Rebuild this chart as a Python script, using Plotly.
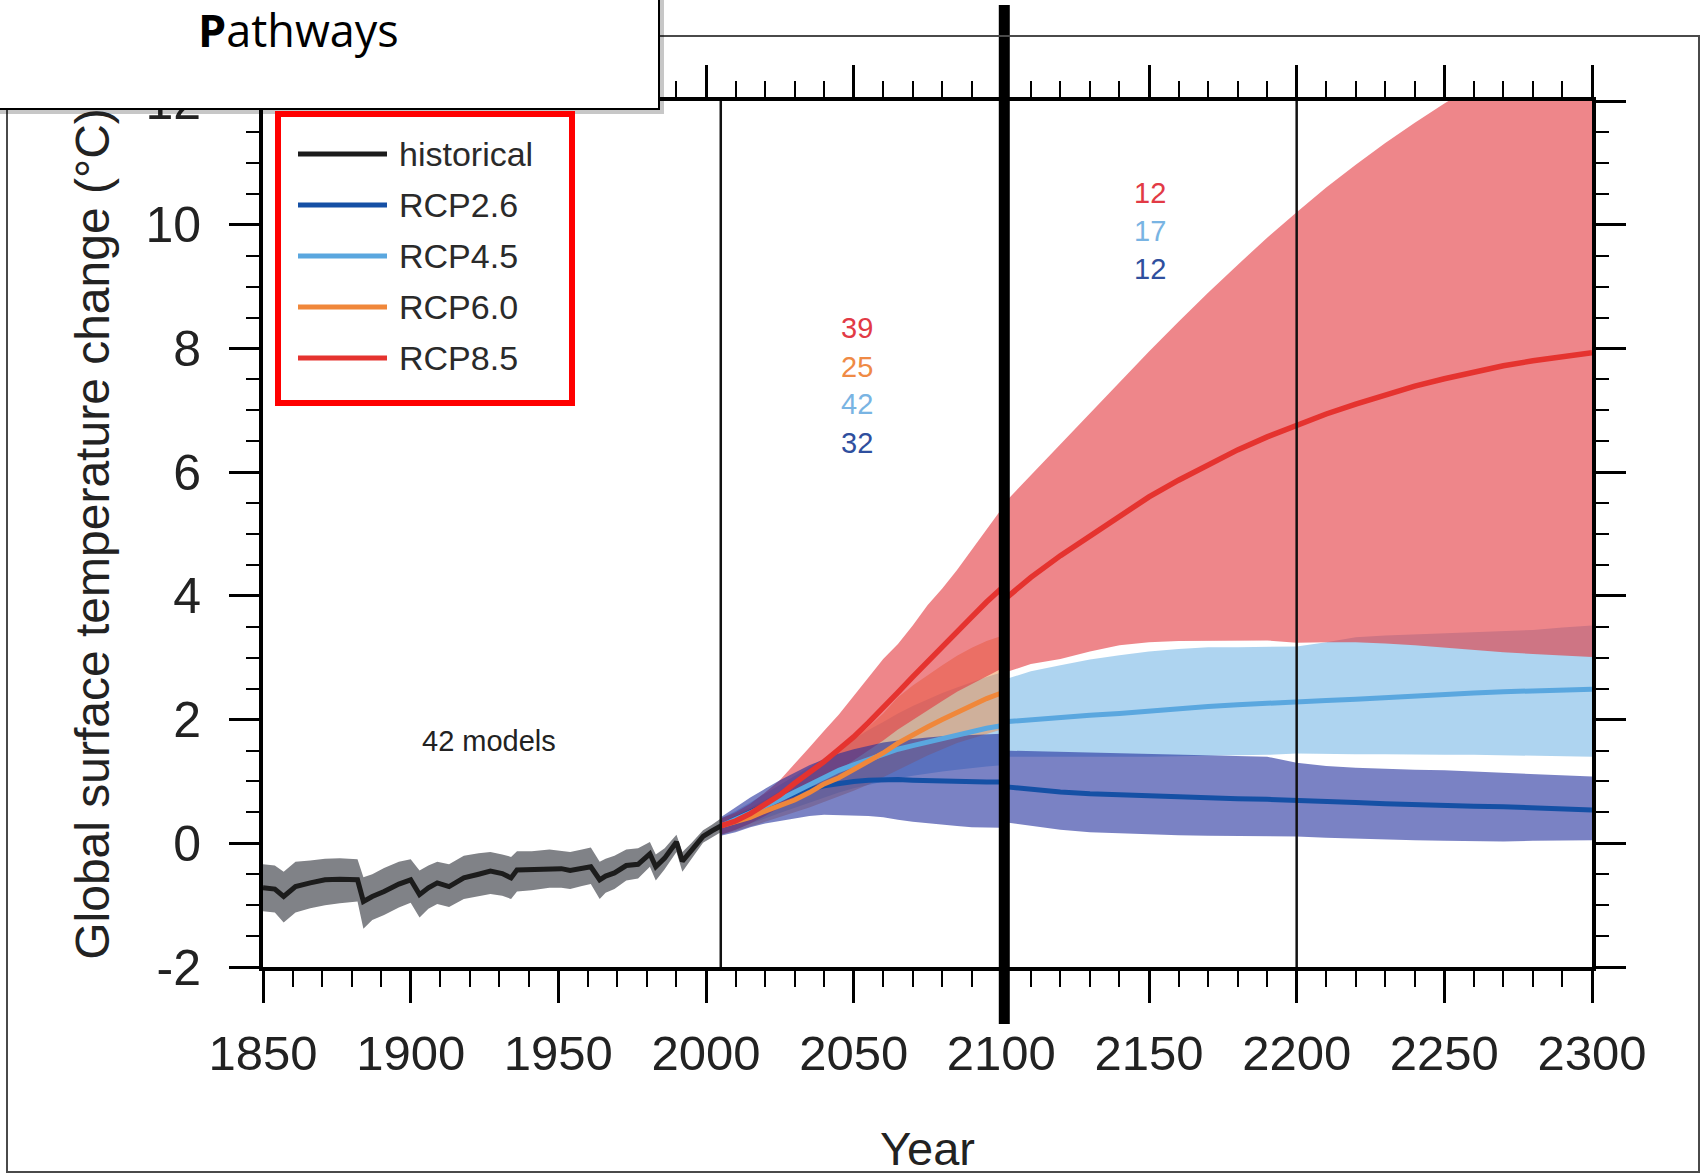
import plotly.graph_objects as go

# ---------------- historical simulations, 1850-2005 ----------------
hist_years = [1850, 1854, 1857, 1861, 1866, 1871, 1876, 1882, 1884, 1887,
              1891, 1896, 1900, 1903, 1906, 1909, 1913, 1918, 1923, 1927,
              1931, 1934, 1936, 1941, 1947, 1951, 1954, 1958, 1961, 1964,
              1966, 1969, 1973, 1977, 1981, 1983, 1986, 1990, 1992, 1995,
              1999, 2002, 2005]
hist_mean = [-0.72, -0.74, -0.86, -0.70, -0.64, -0.59, -0.58, -0.59, -0.94, -0.86,
             -0.78, -0.66, -0.59, -0.83, -0.72, -0.64, -0.70, -0.56, -0.50, -0.45,
             -0.49, -0.56, -0.43, -0.42, -0.40, -0.41, -0.44, -0.40, -0.38, -0.59,
             -0.53, -0.48, -0.36, -0.34, -0.17, -0.38, -0.24, 0.02, -0.29, -0.12,
             0.11, 0.20, 0.28]
hist_upper = [-0.34, -0.36, -0.46, -0.30, -0.28, -0.25, -0.24, -0.26, -0.55, -0.50,
              -0.40, -0.30, -0.26, -0.44, -0.36, -0.30, -0.34, -0.20, -0.16, -0.14,
              -0.18, -0.22, -0.13, -0.13, -0.10, -0.12, -0.14, -0.10, -0.07, -0.30,
              -0.25, -0.20, -0.10, -0.08, 0.02, -0.18, -0.08, 0.14, -0.14, 0.00,
              0.21, 0.30, 0.40]
hist_lower = [-1.10, -1.12, -1.28, -1.12, -1.05, -1.00, -0.97, -0.94, -1.38, -1.24,
              -1.16, -1.04, -0.96, -1.20, -1.06, -0.98, -1.03, -0.90, -0.86, -0.82,
              -0.85, -0.90, -0.78, -0.76, -0.72, -0.72, -0.74, -0.69, -0.66, -0.90,
              -0.80, -0.74, -0.60, -0.57, -0.38, -0.60, -0.42, -0.14, -0.46, -0.26,
              0.01, 0.10, 0.18]

# ---------------- RCP projections, 2005-2100 ----------------
years_21c = [2005, 2010, 2015, 2020, 2025, 2030, 2035, 2040, 2045, 2050,
             2055, 2060, 2065, 2070, 2075, 2080, 2085, 2090, 2095, 2100]

rcp26_mean_21c = [0.28, 0.40, 0.52, 0.62, 0.72, 0.80, 0.87, 0.93, 0.97, 1.00,
                  1.02, 1.03, 1.03, 1.02, 1.01, 1.01, 1.00, 1.00, 0.99, 0.99]
rcp26_upper_21c = [0.42, 0.58, 0.74, 0.88, 1.02, 1.14, 1.26, 1.36, 1.45, 1.52,
                   1.58, 1.63, 1.66, 1.69, 1.71, 1.73, 1.74, 1.75, 1.76, 1.77]
rcp26_lower_21c = [0.12, 0.18, 0.26, 0.32, 0.37, 0.40, 0.44, 0.46, 0.46, 0.45,
                   0.44, 0.42, 0.38, 0.35, 0.32, 0.30, 0.28, 0.26, 0.25, 0.25]

rcp45_mean_21c = [0.28, 0.38, 0.50, 0.60, 0.71, 0.83, 0.96, 1.08, 1.18, 1.27,
                  1.36, 1.44, 1.52, 1.58, 1.64, 1.70, 1.76, 1.81, 1.86, 1.90]
rcp45_upper_21c = [0.40, 0.52, 0.66, 0.80, 0.94, 1.08, 1.23, 1.38, 1.53, 1.68,
                   1.83, 1.96, 2.10, 2.22, 2.33, 2.43, 2.52, 2.61, 2.69, 2.76]
rcp45_lower_21c = [0.14, 0.22, 0.32, 0.40, 0.49, 0.58, 0.66, 0.74, 0.82, 0.89,
                   0.95, 1.00, 1.05, 1.09, 1.13, 1.16, 1.19, 1.22, 1.24, 1.26]

rcp60_mean_21c = [0.28, 0.34, 0.42, 0.52, 0.61, 0.70, 0.82, 0.96, 1.06, 1.19,
                  1.32, 1.46, 1.62, 1.76, 1.88, 2.00, 2.12, 2.24, 2.34, 2.43]
rcp60_upper_21c = [0.40, 0.48, 0.58, 0.70, 0.84, 0.98, 1.12, 1.28, 1.48, 1.68,
                   1.88, 2.10, 2.36, 2.55, 2.72, 2.88, 3.03, 3.16, 3.27, 3.35]
rcp60_lower_21c = [0.14, 0.20, 0.27, 0.35, 0.42, 0.50, 0.58, 0.66, 0.76, 0.85,
                   0.95, 1.06, 1.18, 1.30, 1.42, 1.52, 1.62, 1.70, 1.77, 1.84]

rcp85_mean_21c = [0.28, 0.36, 0.48, 0.62, 0.78, 0.97, 1.14, 1.32, 1.52, 1.72,
                  1.95, 2.18, 2.44, 2.69, 2.94, 3.18, 3.42, 3.66, 3.90, 4.12]
rcp85_upper_21c = [0.40, 0.50, 0.64, 0.82, 1.02, 1.28, 1.55, 1.82, 2.08, 2.38,
                   2.68, 2.98, 3.22, 3.52, 3.85, 4.12, 4.42, 4.75, 5.08, 5.40]
rcp85_lower_21c = [0.14, 0.22, 0.32, 0.44, 0.58, 0.72, 0.88, 1.02, 1.18, 1.34,
                   1.50, 1.66, 1.84, 2.00, 2.15, 2.30, 2.45, 2.58, 2.70, 2.82]

# ---------------- extensions, 2100-2300 ----------------
years_ext = [2100, 2110, 2120, 2130, 2140, 2150, 2160, 2170, 2180, 2190, 2200,
             2210, 2220, 2230, 2240, 2250, 2260, 2270, 2280, 2290, 2300]

rcp26_mean_ext = [0.92, 0.87, 0.83, 0.80, 0.78, 0.76, 0.74, 0.73, 0.72, 0.71, 0.70,
                  0.68, 0.66, 0.64, 0.62, 0.61, 0.60, 0.59, 0.57, 0.56, 0.54]
rcp26_upper_ext = [1.50, 1.49, 1.48, 1.47, 1.46, 1.45, 1.44, 1.43, 1.42, 1.40, 1.30,
                   1.25, 1.22, 1.20, 1.19, 1.18, 1.16, 1.14, 1.12, 1.10, 1.08]
rcp26_lower_ext = [0.35, 0.28, 0.22, 0.18, 0.16, 0.15, 0.13, 0.12, 0.11, 0.11, 0.11,
                   0.09, 0.07, 0.06, 0.05, 0.04, 0.03, 0.03, 0.04, 0.05, 0.05]

rcp45_mean_ext = [1.96, 2.00, 2.04, 2.07, 2.10, 2.14, 2.18, 2.21, 2.24, 2.27, 2.29,
                  2.31, 2.33, 2.36, 2.39, 2.41, 2.43, 2.45, 2.46, 2.47, 2.49]
rcp45_upper_ext = [2.63, 2.78, 2.88, 2.97, 3.04, 3.10, 3.14, 3.17, 3.17, 3.17, 3.18,
                   3.25, 3.33, 3.36, 3.38, 3.39, 3.41, 3.43, 3.45, 3.49, 3.52]
rcp45_lower_ext = [1.40, 1.40, 1.40, 1.40, 1.40, 1.40, 1.40, 1.41, 1.42, 1.43, 1.45,
                   1.45, 1.44, 1.44, 1.44, 1.43, 1.43, 1.42, 1.42, 1.41, 1.40]

rcp85_mean_ext = [3.90, 4.30, 4.65, 4.97, 5.30, 5.60, 5.87, 6.12, 6.36, 6.57, 6.76,
                  6.94, 7.10, 7.25, 7.39, 7.51, 7.62, 7.72, 7.80, 7.87, 7.93]
rcp85_upper_ext = [5.45, 5.95, 6.45, 6.96, 7.46, 7.95, 8.43, 8.90, 9.35, 9.79, 10.20,
                   10.60, 10.97, 11.32, 11.65, 11.96, 12.25, 12.52, 12.77, 13.00, 13.20]
rcp85_lower_ext = [2.74, 2.90, 2.98, 3.10, 3.20, 3.25, 3.27, 3.28, 3.28, 3.28, 3.24,
                   3.25, 3.25, 3.23, 3.20, 3.17, 3.13, 3.09, 3.06, 3.03, 3.01]

# number of models per scenario (RCP8.5, RCP6.0, RCP4.5, RCP2.6 / RCP8.5, RCP4.5, RCP2.6)
model_counts_21c = ["39", "25", "42", "32"]
model_counts_ext = ["12", "17", "12"]
hist_model_label = "42 models"

# boundaries between the simulation periods
period_breaks = [2005, 2100, 2200]

legend_labels = ["historical", "RCP2.6", "RCP4.5", "RCP6.0", "RCP8.5"]

x_tick_vals = [1850, 1900, 1950, 2000, 2050, 2100, 2150, 2200, 2250, 2300]
x_tick_labels = ["1850", "1900", "1950", "2000", "2050", "2100", "2150", "2200", "2250", "2300"]
y_tick_vals = [-2, 0, 2, 4, 6, 8, 10, 12]
y_tick_labels = ["-2", "0", "2", "4", "6", "8", "10", "12"]

# ---------------- styling ----------------
HIST_LINE, HIST_BAND = "#1c1c1c", "#808287"
C26_LINE, C26_BAND = "#1550a5", "rgba(33,47,157,0.6)"
C45_LINE, C45_BAND = "#5aa7df", "rgba(120,183,230,0.6)"
C60_LINE, C60_BAND = "#f0873a", "rgba(240,140,70,0.5)"
C85_LINE, C85_BAND = "#e5332f", "rgba(227,53,60,0.6)"
TEXT = "#222222"
SANS = "Liberation Sans, Arial, Helvetica, sans-serif"
NARROW = "Liberation Sans Narrow, Arial Narrow, Liberation Sans, Arial, sans-serif"

W, H = 1707, 1175
PL, PT, PW, PH = 263, 101, 1329, 866


def paper_x(px):
    return (px - PL) / PW


def paper_y(py):
    return (PT + PH - py) / PH


fig = go.Figure()


def add_band(x, lower, upper, color, name):
    fig.add_trace(go.Scatter(
        x=list(x) + list(x)[::-1], y=list(upper) + list(lower)[::-1],
        fill="toself", fillcolor=color, mode="lines", line=dict(width=0),
        hoverinfo="skip", showlegend=False, name=name))


def add_line(x, y, color, width, name):
    fig.add_trace(go.Scatter(
        x=x, y=y, mode="lines", line=dict(color=color, width=width),
        showlegend=False, name=name))


# uncertainty ranges
add_band(hist_years, hist_lower, hist_upper, HIST_BAND, "historical range")
add_band(years_21c, rcp45_lower_21c, rcp45_upper_21c, C45_BAND, "RCP4.5 range")
add_band(years_ext, rcp45_lower_ext, rcp45_upper_ext, C45_BAND, "RCP4.5 range")
add_band(years_21c, rcp60_lower_21c, rcp60_upper_21c, C60_BAND, "RCP6.0 range")
add_band(years_21c, rcp85_lower_21c, rcp85_upper_21c, C85_BAND, "RCP8.5 range")
add_band(years_ext, rcp85_lower_ext, rcp85_upper_ext, C85_BAND, "RCP8.5 range")
add_band(years_21c, rcp26_lower_21c, rcp26_upper_21c, C26_BAND, "RCP2.6 range")
add_band(years_ext, rcp26_lower_ext, rcp26_upper_ext, C26_BAND, "RCP2.6 range")

# multi-model means
add_line(hist_years, hist_mean, HIST_LINE, 5, "historical")
add_line(years_21c, rcp26_mean_21c, C26_LINE, 5, "RCP2.6")
add_line(years_ext, rcp26_mean_ext, C26_LINE, 5, "RCP2.6")
add_line(years_21c, rcp45_mean_21c, C45_LINE, 5, "RCP4.5")
add_line(years_ext, rcp45_mean_ext, C45_LINE, 5, "RCP4.5")
add_line(years_21c, rcp60_mean_21c, C60_LINE, 5, "RCP6.0")
add_line(years_21c, rcp85_mean_21c, C85_LINE, 5.5, "RCP8.5")
add_line(years_ext, rcp85_mean_ext, C85_LINE, 5.5, "RCP8.5")

shapes = []
# period separators
for yr in period_breaks:
    shapes.append(dict(type="line", xref="x", yref="paper", x0=yr, x1=yr, y0=0, y1=1,
                       line=dict(color="#111111", width=2.5), layer="above"))
# heavy marker at 2100
shapes.append(dict(type="line", xref="x", yref="paper", x0=2101, x1=2101,
                   y0=paper_y(1024), y1=paper_y(5),
                   line=dict(color="black", width=11), layer="above"))
# outer frame
shapes.append(dict(type="rect", xref="paper", yref="paper",
                   x0=paper_x(7), x1=paper_x(1699), y0=paper_y(1172), y1=paper_y(36),
                   line=dict(color="#4a4a4a", width=2), layer="above"))
# title box with shadow
shapes.append(dict(type="rect", xref="paper", yref="paper",
                   x0=paper_x(-20), x1=paper_x(664), y0=paper_y(114), y1=paper_y(-20),
                   line=dict(width=0), fillcolor="rgba(0,0,0,0.22)", layer="above"))
shapes.append(dict(type="rect", xref="paper", yref="paper",
                   x0=paper_x(-20), x1=paper_x(659), y0=paper_y(109), y1=paper_y(-20),
                   line=dict(color="black", width=2), fillcolor="white", layer="above"))
# legend frame
shapes.append(dict(type="rect", xref="paper", yref="paper",
                   x0=paper_x(278), x1=paper_x(572), y0=paper_y(403), y1=paper_y(114),
                   line=dict(color="#ff0000", width=6), fillcolor="white", layer="above"))

legend_colors = [HIST_LINE, C26_LINE, C45_LINE, C60_LINE, C85_LINE]
legend_rows = [154, 205, 256, 307, 358]
annotations = []
for label, color, row in zip(legend_labels, legend_colors, legend_rows):
    shapes.append(dict(type="line", xref="paper", yref="paper",
                       x0=paper_x(298), x1=paper_x(387), y0=paper_y(row), y1=paper_y(row),
                       line=dict(color=color, width=5), layer="above"))
    annotations.append(dict(xref="paper", yref="paper", x=paper_x(397), y=paper_y(row),
                            text=label, showarrow=False, xanchor="left", yanchor="middle",
                            font=dict(family=SANS, size=34, color="#2a2a2a")))

# model-count labels
count_colors_21c = ["#e23a45", "#ef8a45", "#79b4e3", "#2f4f9e"]
count_y_21c = [8.33, 7.70, 7.10, 6.47]
for txt, col, yy in zip(model_counts_21c, count_colors_21c, count_y_21c):
    annotations.append(dict(x=2051, y=yy, xref="x", yref="y", text=txt, showarrow=False,
                            font=dict(family=SANS, size=29, color=col)))
count_colors_ext = ["#e23a45", "#79b4e3", "#2f4f9e"]
count_y_ext = [10.51, 9.90, 9.28]
for txt, col, yy in zip(model_counts_ext, count_colors_ext, count_y_ext):
    annotations.append(dict(x=2150.5, y=yy, xref="x", yref="y", text=txt, showarrow=False,
                            font=dict(family=SANS, size=29, color=col)))
annotations.append(dict(x=1926.5, y=1.65, xref="x", yref="y", text=hist_model_label,
                        showarrow=False, font=dict(family=SANS, size=29, color=TEXT)))

# title box text
annotations.append(dict(xref="paper", yref="paper", x=paper_x(298), y=paper_y(30),
                        text="<b>P</b>athways", showarrow=False, xanchor="center",
                        yanchor="middle", font=dict(family="Open Sans, sans-serif",
                                                    size=45, color="black")))

axis_common = dict(showline=True, linecolor="black", linewidth=4, mirror="ticks",
                   ticks="outside", tickcolor="black", tickwidth=3, showgrid=False,
                   zeroline=False, fixedrange=True)

fig.update_layout(
    width=W, height=H,
    margin=dict(l=PL, r=W - PL - PW, t=PT, b=H - PT - PH, autoexpand=False),
    paper_bgcolor="white", plot_bgcolor="white",
    showlegend=False,
    shapes=shapes, annotations=annotations,
    xaxis=dict(axis_common, range=[1850, 2300], tickmode="array",
               tickvals=x_tick_vals, ticktext=x_tick_labels, ticklen=32,
               ticklabelstandoff=8,
               tickfont=dict(family=NARROW, size=49, color=TEXT),
               minor=dict(ticks="outside", ticklen=16, tickwidth=2, tickcolor="black",
                          tick0=1850, dtick=10, showgrid=False),
               title=dict(text="Year", standoff=58,
                          font=dict(family=NARROW, size=47, color=TEXT))),
    yaxis=dict(axis_common, range=[-2, 12], tickmode="array",
               tickvals=y_tick_vals, ticktext=y_tick_labels, ticklen=30,
               ticklabelstandoff=18,
               tickfont=dict(family=SANS, size=50, color=TEXT),
               minor=dict(ticks="outside", ticklen=13, tickwidth=2, tickcolor="black",
                          tick0=-2, dtick=0.5, showgrid=False),
               title=dict(text="Global surface temperature change (°C)", standoff=22,
                          font=dict(family=SANS, size=48, color=TEXT))),
)

fig.write_html("out.html")
